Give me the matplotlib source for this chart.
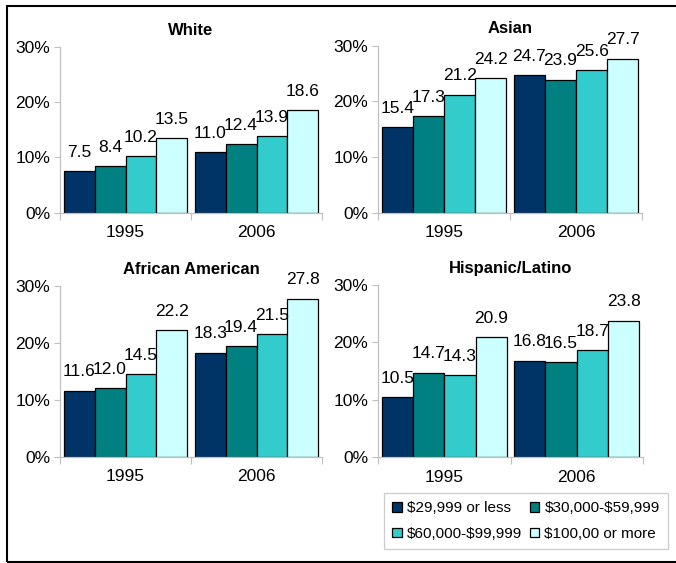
import matplotlib
matplotlib.use("Agg")
import matplotlib.pyplot as plt
from matplotlib.patches import Rectangle, Patch
import numpy as np

plt.rcParams['font.family'] = ['Liberation Sans', 'DejaVu Sans']

years = ["1995", "2006"]
incomes = ["$29,999 or less", "$30,000-$59,999", "$60,000-$99,999", "$100,00 or more"]
colors = ["#003366", "#008080", "#33CCCC", "#CCFFFF"]

white = [[7.5, 8.4, 10.2, 13.5], [11.0, 12.4, 13.9, 18.6]]
asian = [[15.4, 17.3, 21.2, 24.2], [24.7, 23.9, 25.6, 27.7]]
african_american = [[11.6, 12.0, 14.5, 22.2], [18.3, 19.4, 21.5, 27.8]]
hispanic = [[10.5, 14.7, 14.3, 20.9], [16.8, 16.5, 18.7, 23.8]]

W, H = 676, 563

def px_axes(fig, left, right, y0, y30):
	# pixel coords (from top) -> figure fraction
	return fig.add_axes([left / W, (H - y0) / H, (right - left) / W, (y0 - y30) / H])

def draw_panel(ax, title, data):
	bw = 0.236
	x = np.arange(len(years)) + 0.5
	for k in range(len(incomes)):
		vals = [data[g][k] for g in range(len(years))]
		pos = x + (k - 1.5) * bw
		ax.bar(pos, vals, width=bw, color=colors[k], edgecolor="black", linewidth=0.9)
		for p, v in zip(pos, vals):
			ax.annotate(f"{v:.1f}", (p, v), xytext=(0, 13.5), textcoords="offset points",
						ha="center", va="center", fontsize=12.5, annotation_clip=False)
	ax.set_xlim(0, 2)
	ax.set_ylim(0, 30)
	ax.set_yticks([0, 10, 20, 30])
	ax.set_yticklabels(["0%", "10%", "20%", "30%"])
	ax.set_xticks([0, 1, 2])
	ax.set_xticklabels([])
	ax.set_xticks(x, minor=True)
	ax.set_xticklabels(years, minor=True)
	ax.tick_params(axis="x", which="major", length=5, color="#c0c0c0", direction="out")
	ax.tick_params(axis="x", which="minor", length=0, labelsize=12.5, pad=9)
	ax.tick_params(axis="y", length=4, color="#c0c0c0", labelsize=12.5, pad=3)
	for s in ["top", "right"]:
		ax.spines[s].set_visible(False)
	for s in ["left", "bottom"]:
		ax.spines[s].set_color("#c0c0c0")
		ax.spines[s].set_linewidth(0.9)
	ax.set_title(title, fontsize=12, fontweight="bold", pad=9)

fig = plt.figure(figsize=(W / 100, H / 100), dpi=100)

ax1 = px_axes(fig, 60, 322, 212.7, 47)
ax2 = px_axes(fig, 378, 642, 212.7, 45.7)
ax3 = px_axes(fig, 60, 322, 456.7, 286)
ax4 = px_axes(fig, 378, 643, 457, 285)

draw_panel(ax1, "White", white)
draw_panel(ax2, "Asian", asian)
draw_panel(ax3, "African American", african_american)
draw_panel(ax4, "Hispanic/Latino", hispanic)

# outer frame
fig.patches.append(Rectangle((7 / W, (H - 562) / H), 700 / W, 556 / H, transform=fig.transFigure,
							 fill=False, edgecolor="black", linewidth=1.5))

# legend fills row-wise in the reference
order = [0, 2, 1, 3]
handles = [Patch(facecolor=colors[i], edgecolor="black", linewidth=0.9) for i in order]
labels = [incomes[i].replace("$", r"\$") for i in order]
leg = fig.legend(handles, labels, loc="upper right",
				 bbox_to_anchor=(668 / W, (H - 493) / H),
				 ncol=2, fontsize=11, frameon=True, fancybox=False, handlelength=0.6,
				 handleheight=0.6, handletextpad=0.35, columnspacing=0.5, borderaxespad=0,
				 borderpad=0.55, labelspacing=0.75)
leg.get_frame().set_edgecolor("#c0c0c0")
leg.get_frame().set_linewidth(0.9)

fig.savefig("out.png", dpi=100)
